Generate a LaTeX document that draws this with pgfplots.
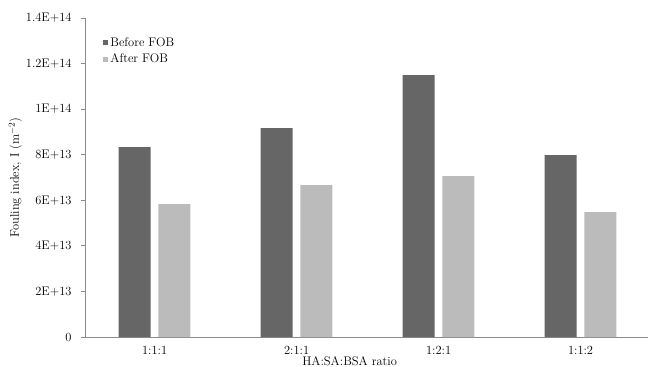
\documentclass[border=0pt]{standalone}
\usepackage{fontspec}
\usepackage{pgfplots}
\pgfplotsset{compat=1.18}
\definecolor{darkbar}{HTML}{666666}
\definecolor{lightbar}{HTML}{BBBBBB}
\definecolor{axgray}{HTML}{8C8C8C}
\begin{document}
\begin{tikzpicture}
\begin{axis}[
  scale only axis,
  width=563bp, height=319bp,
  xmin=-0.49, xmax=3.475,
  ymin=0, ymax=1.4e14,
  axis x line*=bottom, axis y line*=left,
  axis line style={axgray, line width=0.8pt},
  xtick={0,1,2,3},
  xticklabels={1:1:1,2:1:1,1:2:1,1:1:2},
  xtick style={draw=none},
  ytick={0,2e13,4e13,6e13,8e13,1e14,1.2e14,1.4e14},
  yticklabels={0,2E+13,4E+13,6E+13,8E+13,1E+14,1.2E+14,1.4E+14},
  scaled y ticks=false,
  ytick style={axgray, line width=0.8pt},
  tick align=outside,
  major tick length=4bp,
  tick label style={font=\fontsize{12.5}{14}\selectfont},
  xticklabel style={yshift=-2bp},
  yticklabel style={xshift=-6bp},
  ylabel={Fouling index, I (m$^{-2}$)},
  ylabel style={font=\fontsize{12.5}{14}\selectfont},
  ylabel shift=-3bp,
  xlabel={HA:SA:BSA ratio},
  xlabel style={font=\fontsize{12.5}{14}\selectfont, at={(axis description cs:0.47,-0.075)}, anchor=center},
  ybar, bar width=0.225,
  legend style={draw=none, fill=none, at={(axis description cs:0.032,0.945)}, anchor=north west,
    font=\fontsize{12.5}{14}\selectfont, row sep=2bp, inner sep=0pt},
  legend cell align=left,
  legend image code/.code={\fill[#1] (0bp,-2.6bp) rectangle (5.2bp,2.6bp);},
  clip=false,
]
\addplot[fill=darkbar, draw=none, bar shift=-0.14] coordinates {(0,8.33e13) (1,9.17e13) (2,1.149e14) (3,7.98e13)};
\addplot[fill=lightbar, draw=none, bar shift=0.14] coordinates {(0,5.83e13) (1,6.67e13) (2,7.06e13) (3,5.48e13)};
\legend{Before FOB, After FOB}
\end{axis}
\pgfresetboundingbox
\path[use as bounding box] (-85bp,-30bp) rectangle (563bp,337bp);
\end{tikzpicture}
\end{document}
